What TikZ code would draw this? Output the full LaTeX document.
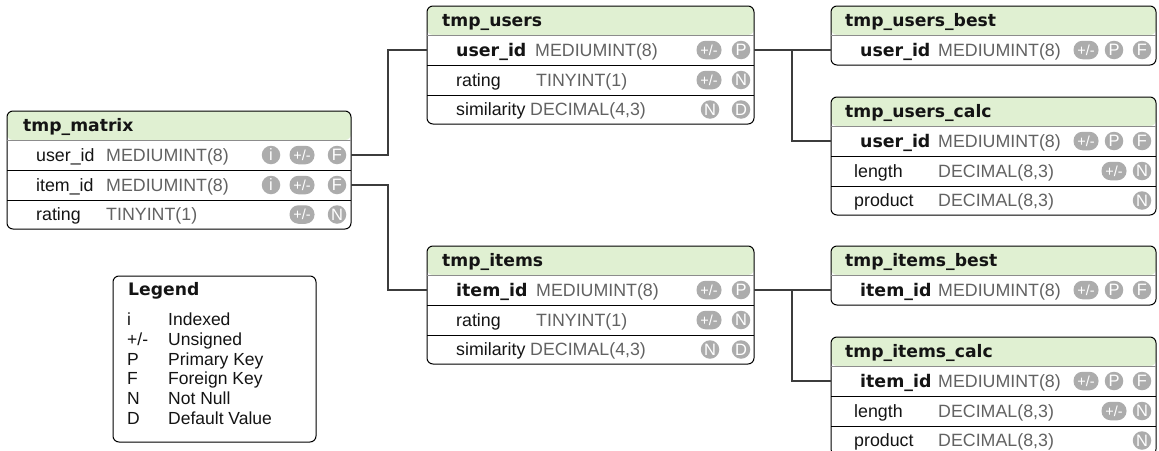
\documentclass[tikz,border=0pt]{standalone}
\usepackage{fontspec}
\setmainfont{Liberation Sans}
\newfontfamily\titlefont{DejaVu Sans}
\usetikzlibrary{calc}

\definecolor{hdrgreen}{RGB}{224,240,210}
\definecolor{badgegray}{RGB}{172,172,172}
\definecolor{typegray}{RGB}{98,98,98}
\definecolor{namecol}{RGB}{20,20,20}
\definecolor{connline}{RGB}{60,60,60}
\definecolor{hdrsep}{RGB}{140,140,140}

\tikzset{
  tbl/.style={draw=black, line width=1pt, rounded corners=6pt, fill=white,
    inner sep=0pt, outer sep=0pt, anchor=north west,
    path picture={\fill[hdrgreen] (path picture bounding box.north west)
      rectangle ([yshift=-29pt]path picture bounding box.north east);}},
  legendbox/.style={draw=black, line width=1pt, rounded corners=6pt, fill=white,
    inner sep=0pt, outer sep=0pt, anchor=north west},
  rowbox/.style={inner sep=0pt, outer sep=0pt, anchor=north west, minimum height=30pt},
  titletext/.style={anchor=west, inner sep=0pt, font=\titlefont\bfseries\fontsize{17.2}{20}\selectfont,
    text=namecol, text height=12.5pt, text depth=0pt},
  colname/.style={anchor=west, inner sep=0pt, font=\fontsize{17.8}{20}\selectfont,
    text=namecol, text height=12.8pt, text depth=0pt},
  keyname/.style={anchor=west, inner sep=0pt, font=\titlefont\bfseries\fontsize{17.4}{20}\selectfont,
    text=namecol, text height=12.8pt, text depth=0pt},
  coltype/.style={anchor=west, inner sep=0pt, font=\fontsize{17.8}{20}\selectfont,
    text=typegray, text height=12.8pt, text depth=0pt},
  badge/.style={circle, fill=badgegray, minimum size=18.5pt, inner sep=0pt,
    text=white, font=\fontsize{16.5}{16}\selectfont, text height=11.8pt, text depth=0pt},
  pill/.style={rectangle, rounded corners=9pt, fill=badgegray, minimum width=25pt,
    minimum height=18.5pt, inner sep=0pt, text=white, font=\fontsize{14.5}{14}\selectfont,
    text height=10.5pt, text depth=0pt},
  rowline/.style={draw=black, line width=0.9pt},
  hdrline/.style={draw=hdrsep, line width=1pt},
  conn/.style={draw=connline, line width=1.6pt},
  legtext/.style={anchor=west, inner sep=0pt, font=\fontsize{17.5}{20}\selectfont,
    text=namecol, text height=12.6pt, text depth=0pt},
}

\begin{document}
\begin{tikzpicture}[x=1pt, y=-1pt]
\useasboundingbox (0,0) rectangle (1159,450);
\clip (0,0) rectangle (1159,450);

% ---------------- tmp_matrix ----------------
\node[tbl, minimum width=344pt, minimum height=118pt] (mx) at (7,111) {};
\node[titletext] (mx-t) at (23,125.5) {tmp\_matrix};
\node[rowbox, minimum width=344pt] (mx-r1) at (7,140) {};
\node[rowbox, minimum width=344pt] (mx-r2) at (7,170) {};
\node[rowbox, minimum width=344pt, minimum height=29pt] (mx-r3) at (7,200) {};
\draw[hdrline] (mx-r1.north west) -- (mx-r1.north east);
\draw[rowline] (mx-r1.south west) -- (mx-r1.south east);
\draw[rowline] (mx-r2.south west) -- (mx-r2.south east);
\node[colname] (mx-n1) at ([xshift=29pt]mx-r1.west) {user\_id};
\node[coltype] (mx-y1) at ([xshift=99pt]mx-r1.west) {MEDIUMINT(8)};
\node[badge]   (mx-a1) at ([xshift=-80pt]mx-r1.east) {i};
\node[pill]    (mx-b1) at ([xshift=-49pt]mx-r1.east) {+/-};
\node[badge]   (mx-c1) at ([xshift=-14pt]mx-r1.east) {F};
\node[colname] (mx-n2) at ([xshift=29pt]mx-r2.west) {item\_id};
\node[coltype] (mx-y2) at ([xshift=99pt]mx-r2.west) {MEDIUMINT(8)};
\node[badge]   (mx-a2) at ([xshift=-80pt]mx-r2.east) {i};
\node[pill]    (mx-b2) at ([xshift=-49pt]mx-r2.east) {+/-};
\node[badge]   (mx-c2) at ([xshift=-14pt]mx-r2.east) {F};
\node[colname] (mx-n3) at ([xshift=29pt]mx-r3.west) {rating};
\node[coltype] (mx-y3) at ([xshift=99pt]mx-r3.west) {TINYINT(1)};
\node[pill]    (mx-b3) at ([xshift=-49pt]mx-r3.east) {+/-};
\node[badge]   (mx-c3) at ([xshift=-14pt]mx-r3.east) {N};

% ---------------- tmp_users ----------------
\node[tbl, minimum width=327pt, minimum height=118pt] (us) at (427,6) {};
\node[titletext] (us-t) at (442,20.5) {tmp\_users};
\node[rowbox, minimum width=327pt] (us-r1) at (427,35) {};
\node[rowbox, minimum width=327pt] (us-r2) at (427,65) {};
\node[rowbox, minimum width=327pt, minimum height=29pt] (us-r3) at (427,95) {};
\draw[hdrline] (us-r1.north west) -- (us-r1.north east);
\draw[rowline] (us-r1.south west) -- (us-r1.south east);
\draw[rowline] (us-r2.south west) -- (us-r2.south east);
\node[keyname] (us-n1) at ([xshift=29pt]us-r1.west) {user\_id};
\node[coltype] (us-y1) at ([xshift=108pt]us-r1.west) {MEDIUMINT(8)};
\node[pill]    (us-b1) at ([xshift=-45pt]us-r1.east) {+/-};
\node[badge]   (us-c1) at ([xshift=-13pt]us-r1.east) {P};
\node[colname] (us-n2) at ([xshift=29pt]us-r2.west) {rating};
\node[coltype] (us-y2) at ([xshift=109pt]us-r2.west) {TINYINT(1)};
\node[pill]    (us-b2) at ([xshift=-45pt]us-r2.east) {+/-};
\node[badge]   (us-c2) at ([xshift=-13pt]us-r2.east) {N};
\node[colname] (us-n3) at ([xshift=29pt]us-r3.west) {similarity};
\node[coltype] (us-y3) at ([xshift=103pt]us-r3.west) {DECIMAL(4,3)};
\node[badge]   (us-b3) at ([xshift=-44pt]us-r3.east) {N};
\node[badge]   (us-c3) at ([xshift=-13pt]us-r3.east) {D};

% ---------------- tmp_items ----------------
\node[tbl, minimum width=327pt, minimum height=118pt] (it) at (427,246) {};
\node[titletext] (it-t) at (442,260.5) {tmp\_items};
\node[rowbox, minimum width=327pt] (it-r1) at (427,275) {};
\node[rowbox, minimum width=327pt] (it-r2) at (427,305) {};
\node[rowbox, minimum width=327pt, minimum height=29pt] (it-r3) at (427,335) {};
\draw[hdrline] (it-r1.north west) -- (it-r1.north east);
\draw[rowline] (it-r1.south west) -- (it-r1.south east);
\draw[rowline] (it-r2.south west) -- (it-r2.south east);
\node[keyname] (it-n1) at ([xshift=29pt]it-r1.west) {item\_id};
\node[coltype] (it-y1) at ([xshift=109pt]it-r1.west) {MEDIUMINT(8)};
\node[pill]    (it-b1) at ([xshift=-45pt]it-r1.east) {+/-};
\node[badge]   (it-c1) at ([xshift=-13pt]it-r1.east) {P};
\node[colname] (it-n2) at ([xshift=29pt]it-r2.west) {rating};
\node[coltype] (it-y2) at ([xshift=109pt]it-r2.west) {TINYINT(1)};
\node[pill]    (it-b2) at ([xshift=-45pt]it-r2.east) {+/-};
\node[badge]   (it-c2) at ([xshift=-13pt]it-r2.east) {N};
\node[colname] (it-n3) at ([xshift=29pt]it-r3.west) {similarity};
\node[coltype] (it-y3) at ([xshift=103pt]it-r3.west) {DECIMAL(4,3)};
\node[badge]   (it-b3) at ([xshift=-44pt]it-r3.east) {N};
\node[badge]   (it-c3) at ([xshift=-13pt]it-r3.east) {D};

% ---------------- tmp_users_best ----------------
\node[tbl, minimum width=325pt, minimum height=59pt] (ub) at (831,6) {};
\node[titletext] (ub-t) at (845,20.5) {tmp\_users\_best};
\node[rowbox, minimum width=325pt, minimum height=30pt] (ub-r1) at (831,35) {};
\draw[hdrline] (ub-r1.north west) -- (ub-r1.north east);
\node[keyname] (ub-n1) at ([xshift=29pt]ub-r1.west) {user\_id};
\node[coltype] (ub-y1) at ([xshift=107pt]ub-r1.west) {MEDIUMINT(8)};
\node[pill]    (ub-a1) at ([xshift=-70pt]ub-r1.east) {+/-};
\node[badge]   (ub-b1) at ([xshift=-42pt]ub-r1.east) {P};
\node[badge]   (ub-c1) at ([xshift=-14pt]ub-r1.east) {F};

% ---------------- tmp_users_calc ----------------
\node[tbl, minimum width=325pt, minimum height=118pt] (uc) at (831,97) {};
\node[titletext] (uc-t) at (845,111.5) {tmp\_users\_calc};
\node[rowbox, minimum width=325pt] (uc-r1) at (831,126) {};
\node[rowbox, minimum width=325pt] (uc-r2) at (831,156) {};
\node[rowbox, minimum width=325pt, minimum height=29pt] (uc-r3) at (831,186) {};
\draw[hdrline] (uc-r1.north west) -- (uc-r1.north east);
\draw[rowline] (uc-r1.south west) -- (uc-r1.south east);
\draw[rowline] (uc-r2.south west) -- (uc-r2.south east);
\node[keyname] (uc-n1) at ([xshift=29pt]uc-r1.west) {user\_id};
\node[coltype] (uc-y1) at ([xshift=107pt]uc-r1.west) {MEDIUMINT(8)};
\node[pill]    (uc-a1) at ([xshift=-70pt]uc-r1.east) {+/-};
\node[badge]   (uc-b1) at ([xshift=-42pt]uc-r1.east) {P};
\node[badge]   (uc-c1) at ([xshift=-14pt]uc-r1.east) {F};
\node[colname] (uc-n2) at ([xshift=23pt]uc-r2.west) {length};
\node[coltype] (uc-y2) at ([xshift=107pt]uc-r2.west) {DECIMAL(8,3)};
\node[pill]    (uc-b2) at ([xshift=-42pt]uc-r2.east) {+/-};
\node[badge]   (uc-c2) at ([xshift=-14pt]uc-r2.east) {N};
\node[colname] (uc-n3) at ([xshift=23pt]uc-r3.west) {product};
\node[coltype] (uc-y3) at ([xshift=107pt]uc-r3.west) {DECIMAL(8,3)};
\node[badge]   (uc-c3) at ([xshift=-14pt]uc-r3.east) {N};

% ---------------- tmp_items_best ----------------
\node[tbl, minimum width=325pt, minimum height=59pt] (ib) at (831,246) {};
\node[titletext] (ib-t) at (845,260.5) {tmp\_items\_best};
\node[rowbox, minimum width=325pt, minimum height=30pt] (ib-r1) at (831,275) {};
\draw[hdrline] (ib-r1.north west) -- (ib-r1.north east);
\node[keyname] (ib-n1) at ([xshift=29pt]ib-r1.west) {item\_id};
\node[coltype] (ib-y1) at ([xshift=107pt]ib-r1.west) {MEDIUMINT(8)};
\node[pill]    (ib-a1) at ([xshift=-70pt]ib-r1.east) {+/-};
\node[badge]   (ib-b1) at ([xshift=-42pt]ib-r1.east) {P};
\node[badge]   (ib-c1) at ([xshift=-14pt]ib-r1.east) {F};

% ---------------- tmp_items_calc ----------------
\node[tbl, minimum width=325pt, minimum height=118pt] (ic) at (831,337) {};
\node[titletext] (ic-t) at (845,351.5) {tmp\_items\_calc};
\node[rowbox, minimum width=325pt] (ic-r1) at (831,366) {};
\node[rowbox, minimum width=325pt] (ic-r2) at (831,396) {};
\node[rowbox, minimum width=325pt, minimum height=29pt] (ic-r3) at (831,426) {};
\draw[hdrline] (ic-r1.north west) -- (ic-r1.north east);
\draw[rowline] (ic-r1.south west) -- (ic-r1.south east);
\draw[rowline] (ic-r2.south west) -- (ic-r2.south east);
\node[keyname] (ic-n1) at ([xshift=29pt]ic-r1.west) {item\_id};
\node[coltype] (ic-y1) at ([xshift=107pt]ic-r1.west) {MEDIUMINT(8)};
\node[pill]    (ic-a1) at ([xshift=-70pt]ic-r1.east) {+/-};
\node[badge]   (ic-b1) at ([xshift=-42pt]ic-r1.east) {P};
\node[badge]   (ic-c1) at ([xshift=-14pt]ic-r1.east) {F};
\node[colname] (ic-n2) at ([xshift=23pt]ic-r2.west) {length};
\node[coltype] (ic-y2) at ([xshift=107pt]ic-r2.west) {DECIMAL(8,3)};
\node[pill]    (ic-b2) at ([xshift=-42pt]ic-r2.east) {+/-};
\node[badge]   (ic-c2) at ([xshift=-14pt]ic-r2.east) {N};
\node[colname] (ic-n3) at ([xshift=23pt]ic-r3.west) {product};
\node[coltype] (ic-y3) at ([xshift=107pt]ic-r3.west) {DECIMAL(8,3)};
\node[badge]   (ic-c3) at ([xshift=-14pt]ic-r3.east) {N};

% ---------------- relations ----------------
\draw[conn] (mx-r1.east) -- ++(37,0) |- (us-r1.west);
\draw[conn] (mx-r2.east) -- ++(37,0) |- (it-r1.west);
\draw[conn] (us-r1.east) -- ++(38,0) |- (ub-r1.west);
\draw[conn] (us-r1.east) -- ++(38,0) |- (uc-r1.west);
\draw[conn] (it-r1.east) -- ++(38,0) |- (ib-r1.west);
\draw[conn] (it-r1.east) -- ++(38,0) |- (ic-r1.west);

% ---------------- legend ----------------
\node[legendbox, minimum width=203pt, minimum height=166pt] (lg) at (113,276) {};
\node[titletext] (lg-t) at (128,289) {Legend};
\node[legtext] (lg-s1) at (127,319) {i};
\node[legtext] (lg-d1) at (168,319) {Indexed};
\node[legtext] (lg-s2) at (127,339) {+/-};
\node[legtext] (lg-d2) at (168,339) {Unsigned};
\node[legtext] (lg-s3) at (127,359) {P};
\node[legtext] (lg-d3) at (168,359) {Primary Key};
\node[legtext] (lg-s4) at (127,378.5) {F};
\node[legtext] (lg-d4) at (168,378.5) {Foreign Key};
\node[legtext] (lg-s5) at (127,398) {N};
\node[legtext] (lg-d5) at (168,398) {Not Null};
\node[legtext] (lg-s6) at (127,418) {D};
\node[legtext] (lg-d6) at (168,418) {Default Value};
\end{tikzpicture}
\end{document}
